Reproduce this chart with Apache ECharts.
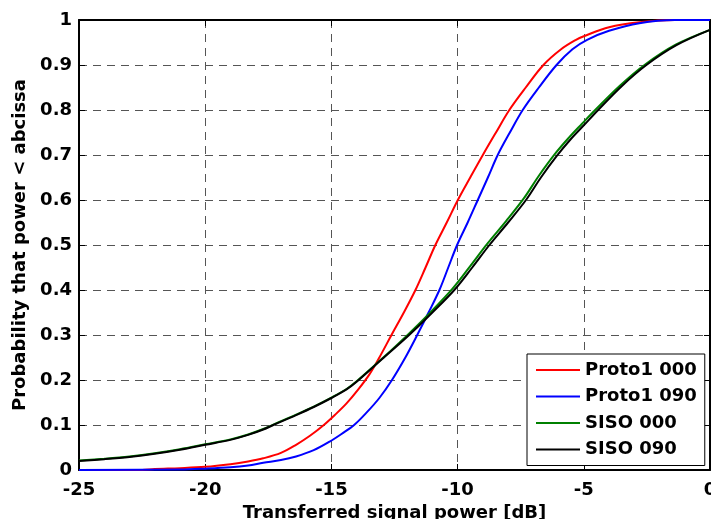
<!DOCTYPE html>
<html>
<head>
<meta charset="utf-8">
<script src="https://cdn.jsdelivr.net/npm/echarts@6/dist/echarts.min.js"></script>
<style>
  html, body { margin: 0; padding: 0; background: #fff; }
  #chart { width: 711px; height: 519px; }
</style>
</head>
<body>
<div id="chart"></div>
<script>
// Empirical CDFs of transferred signal power: [power dB, probability]
const proto1_000 = [
  [-25, 0], [-22.5, 0], [-22, 0.002], [-21, 0.004], [-20, 0.007], [-19, 0.013],
  [-18.3, 0.019], [-17.7, 0.026], [-17, 0.038], [-16.4, 0.056], [-15.85, 0.076],
  [-15.3, 0.1], [-14.85, 0.123], [-14.4, 0.148], [-13.95, 0.178], [-13.5, 0.212],
  [-13.1, 0.25], [-12.62, 0.3], [-12.13, 0.35], [-11.67, 0.4], [-11.27, 0.45],
  [-10.88, 0.5], [-10.43, 0.55], [-9.99, 0.6], [-9.5, 0.65], [-9.0, 0.7],
  [-8.48, 0.75], [-7.95, 0.8], [-7.3, 0.85], [-6.6, 0.9], [-5.9, 0.935],
  [-5.31, 0.956], [-5.0, 0.964], [-4.0, 0.984], [-2.8, 0.995], [-1.4, 1], [0, 1]
];
const proto1_090 = [
  [-25, 0], [-21, 0.001], [-20, 0.003], [-19, 0.006], [-18.3, 0.01], [-17.7, 0.016],
  [-17, 0.022], [-16.4, 0.03], [-15.7, 0.044], [-15.07, 0.063], [-14.6, 0.08],
  [-14.1, 0.1], [-13.6, 0.128], [-13.1, 0.16], [-12.6, 0.2], [-12.07, 0.25],
  [-11.6, 0.3], [-11.15, 0.35], [-10.72, 0.4], [-10.37, 0.45], [-10.02, 0.5],
  [-9.6, 0.55], [-9.2, 0.6], [-8.8, 0.65], [-8.41, 0.7], [-7.93, 0.75],
  [-7.42, 0.8], [-6.78, 0.85], [-6.08, 0.9], [-5.45, 0.935], [-4.87, 0.956],
  [-4.0, 0.976], [-2.8, 0.993], [-1.4, 1], [0, 1]
];
const siso_000 = [
  [-25, 0.021], [-24, 0.025], [-23, 0.03], [-22, 0.037], [-21, 0.046], [-20, 0.057],
  [-19, 0.068], [-18.3, 0.079], [-17.7, 0.091], [-17.3, 0.101], [-16.4, 0.123],
  [-15.7, 0.141], [-15, 0.161], [-14.4, 0.18], [-14, 0.197], [-13, 0.247],
  [-11.95, 0.302], [-11.05, 0.352], [-10.2, 0.403], [-9.5, 0.453], [-8.82, 0.503],
  [-8.08, 0.553], [-7.37, 0.604], [-6.78, 0.654], [-6.15, 0.702], [-5.6, 0.738],
  [-5.08, 0.769], [-4.53, 0.801], [-3.55, 0.855], [-2.57, 0.901], [-1.36, 0.945],
  [0, 0.978]
];
const siso_090 = [
  [-25, 0.02], [-24, 0.024], [-23, 0.029], [-22, 0.036], [-21, 0.045], [-20, 0.056],
  [-19, 0.067], [-18.3, 0.078], [-17.7, 0.09], [-17.3, 0.1], [-16.4, 0.122],
  [-15.7, 0.14], [-15, 0.16], [-14.4, 0.179], [-14, 0.196], [-13, 0.246],
  [-11.92, 0.3], [-11.0, 0.35], [-10.13, 0.4], [-9.42, 0.45], [-8.74, 0.5],
  [-8.0, 0.55], [-7.29, 0.6], [-6.7, 0.65], [-6.07, 0.698], [-5.52, 0.735],
  [-5.0, 0.766], [-4.45, 0.799], [-3.5, 0.853], [-2.52, 0.9], [-1.33, 0.944],
  [0, 0.978]
];

const seriesNames = ['Proto1 000', 'Proto1 090', 'SISO 000', 'SISO 090'];
const seriesColors = ['#ff0000', '#0000ff', '#008000', '#000000'];
const seriesData = [proto1_000, proto1_090, siso_000, siso_090];

const xTitle = 'Transferred signal power [dB]';
const yTitle = 'Probability that power < abcissa';

const FONT = '"DejaVu Sans", "Liberation Sans", Arial, sans-serif';
const gridDash = { color: '#555', width: 1, type: [8, 6] };
const boldText = { fontFamily: FONT, fontWeight: 'bold', fontSize: 18, color: '#000' };

const chart = echarts.init(document.getElementById('chart'), null, { renderer: 'canvas' });

chart.setOption({
  animation: false,
  backgroundColor: '#fff',
  grid: { left: 79, right: 1, top: 20, bottom: 49, containLabel: false, outerBoundsMode: 'none' },
  legend: {
    orient: 'vertical',
    left: 527,
    top: 354,
    data: seriesNames,
    icon: 'rect',
    backgroundColor: '#fff',
    borderColor: '#000',
    borderWidth: 1,
    borderRadius: 0,
    padding: [6, 8, 6, 9],
    itemWidth: 44,
    itemHeight: 2,
    itemGap: 6.5,
    textStyle: Object.assign({ lineHeight: 20 }, boldText)
  },
  xAxis: [
    {
      type: 'value', min: -25, max: 0, interval: 5, position: 'bottom',
      name: xTitle, nameLocation: 'middle', nameGap: 34,
      nameTextStyle: boldText,
      axisLine: { onZero: false, lineStyle: { color: '#000', width: 2 } },
      axisTick: { inside: true, length: 6, lineStyle: { color: '#000', width: 1 } },
      axisLabel: Object.assign({ margin: 11 }, boldText),
      splitLine: { show: true, lineStyle: gridDash }
    },
    {
      type: 'value', min: -25, max: 0, interval: 5, position: 'top',
      axisLine: { onZero: false, lineStyle: { color: '#000', width: 2 } },
      axisTick: { inside: true, length: 6, lineStyle: { color: '#000', width: 1 } },
      axisLabel: { show: false },
      splitLine: { show: false }
    }
  ],
  yAxis: [
    {
      type: 'value', min: 0, max: 1, interval: 0.1, position: 'left',
      name: yTitle, nameLocation: 'middle', nameGap: 46,
      nameTextStyle: boldText,
      axisLine: { onZero: false, lineStyle: { color: '#000', width: 2 } },
      axisTick: { inside: true, length: 6, lineStyle: { color: '#000', width: 1 } },
      axisLabel: Object.assign({ margin: 7 }, boldText),
      splitLine: { show: true, lineStyle: gridDash }
    },
    {
      type: 'value', min: 0, max: 1, interval: 0.1, position: 'right',
      axisLine: { onZero: false, lineStyle: { color: '#000', width: 2 } },
      axisTick: { inside: true, length: 6, lineStyle: { color: '#000', width: 1 } },
      axisLabel: { show: false },
      splitLine: { show: false }
    }
  ],
  series: seriesNames.map((name, i) => ({
    name: name,
    type: 'line',
    xAxisIndex: 0,
    yAxisIndex: 0,
    data: seriesData[i],
    symbol: 'none',
    showSymbol: false,
    smooth: 0.35,
    clip: true,
    color: seriesColors[i],
    itemStyle: { color: seriesColors[i] },
    lineStyle: { color: seriesColors[i], width: 2 },
    z: 3 + i
  }))
});
</script>
</body>
</html>
